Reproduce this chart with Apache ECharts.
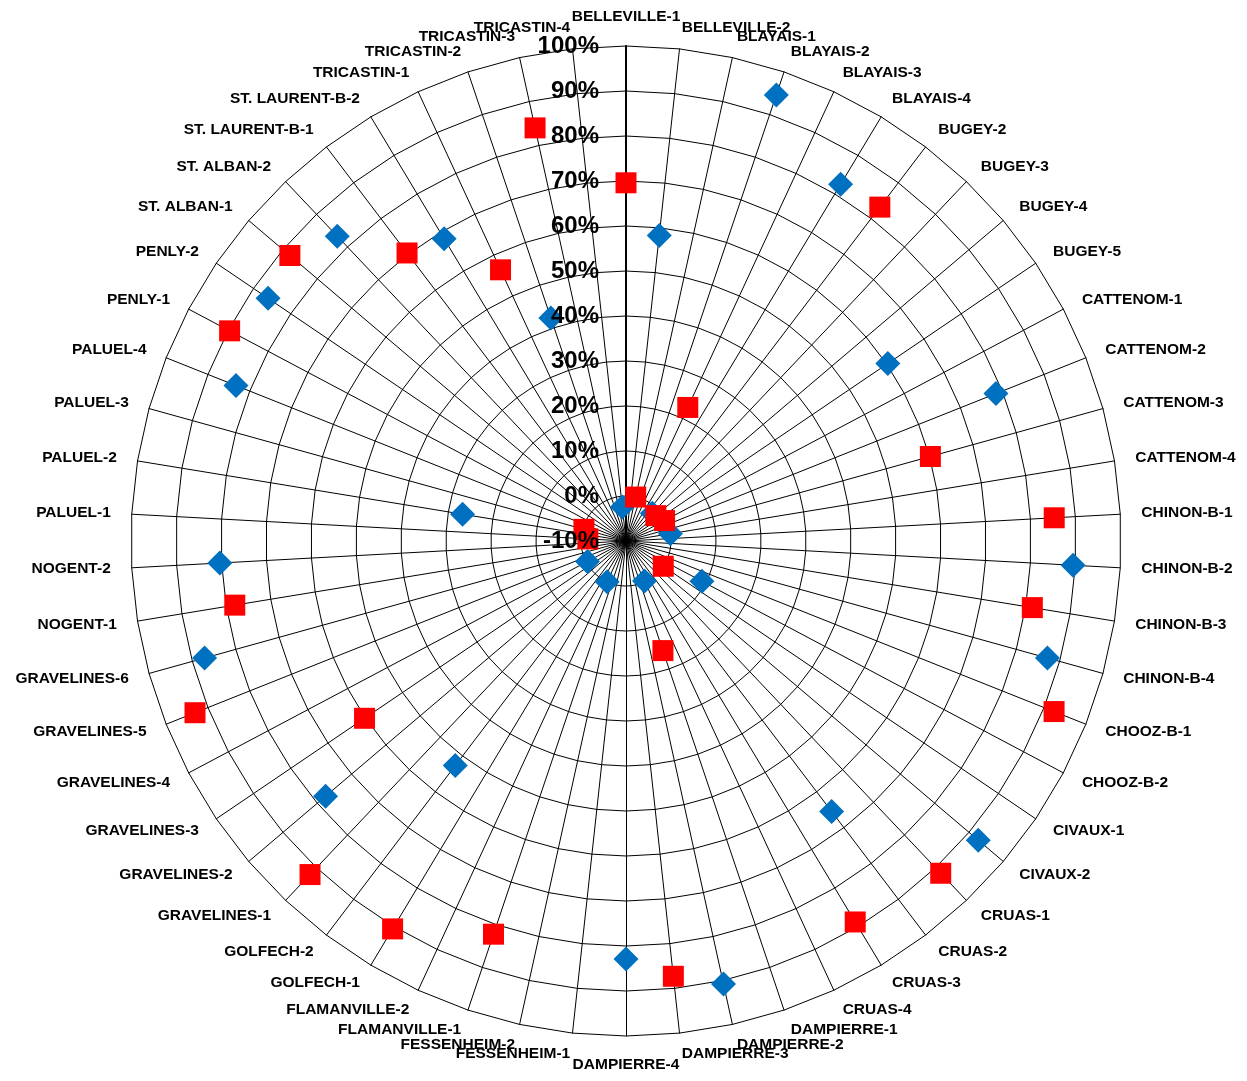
<!DOCTYPE html>
<html><head><meta charset="utf-8">
<script src="https://cdn.jsdelivr.net/npm/echarts@6/dist/echarts.min.js"></script>
<style>html,body{margin:0;padding:0;background:#fff}#c{width:1247px;height:1081px}</style>
</head><body><div id="c"></div>
<script>
const categories = [
  'BELLEVILLE-1','BELLEVILLE-2','BLAYAIS-1','BLAYAIS-2','BLAYAIS-3','BLAYAIS-4',
  'BUGEY-2','BUGEY-3','BUGEY-4','BUGEY-5',
  'CATTENOM-1','CATTENOM-2','CATTENOM-3','CATTENOM-4',
  'CHINON-B-1','CHINON-B-2','CHINON-B-3','CHINON-B-4',
  'CHOOZ-B-1','CHOOZ-B-2','CIVAUX-1','CIVAUX-2',
  'CRUAS-1','CRUAS-2','CRUAS-3','CRUAS-4',
  'DAMPIERRE-1','DAMPIERRE-2','DAMPIERRE-3','DAMPIERRE-4',
  'FESSENHEIM-1','FESSENHEIM-2','FLAMANVILLE-1','FLAMANVILLE-2',
  'GOLFECH-1','GOLFECH-2',
  'GRAVELINES-1','GRAVELINES-2','GRAVELINES-3','GRAVELINES-4','GRAVELINES-5','GRAVELINES-6',
  'NOGENT-1','NOGENT-2',
  'PALUEL-1','PALUEL-2','PALUEL-3','PALUEL-4',
  'PENLY-1','PENLY-2','ST. ALBAN-1','ST. ALBAN-2',
  'ST. LAURENT-B-1','ST. LAURENT-B-2',
  'TRICASTIN-1','TRICASTIN-2','TRICASTIN-3','TRICASTIN-4'
];
// blue diamonds (values in %)
const blueValues = [
  null,58.3,null,94.6,null,82.5,null,-1.5,null,60.3,
  null,78.5,null,0,null,89.5,null,87.2,null,9.1,
  null,92.7,null,65.5,null,-0.2,null,90.8,null,82.9,
  null,null,null,0,null,52.7,null,77.6,null,-0.3,
  null,87.2,null,80.4,null,26.8,null,83.3,null,86.1,
  null,83.3,null,68.4,null,42.3,null,-2.4
];
// red squares (values in %)
const redValues = [
  69.6,null,0,null,22.7,null,83.2,null,-1.3,null,
  -0.3,null,60.2,null,85.3,null,81.5,null,92.4,null,
  0,null,91.7,null,88.8,null,15.7,null,87.3,null,
  null,null,82.2,null,90.6,null,92.1,null,60.2,null,
  93.1,null,78.1,null,-1.5,null,-0.3,null,89.7,null,
  88,null,70.4,null,56.4,null,84,null
];
const radialMin = -10, radialMax = 100, radialStep = 10;

const CX = 626, CY = 541, R = 495;
const n = categories.length;
const FONT = 'Liberation Sans, Arial, sans-serif';

// radar in ECharts runs counter-clockwise; reverse order to get clockwise
const radarOrder = [0].concat(categories.map((_, i) => n - 1 - i).slice(0, n - 1));
const gridIndicators = radarOrder.map((ci, k) => {
  const ind = { name: categories[ci], min: radialMin, max: radialMax };
  if (k === 0) ind.axisLine = { lineStyle: { color: '#000', width: 2 } };
  return ind;
});
// overlay radar that only carries the radial tick labels (drawn above markers)
const labelIndicators = radarOrder.map((ci, k) => {
  const ind = { name: '', min: radialMin, max: radialMax };
  if (k === 0) {
    ind.axisLabel = {
      show: true, color: '#000', fontSize: 24, fontWeight: 'bold', fontFamily: FONT,
      margin: 27, formatter: '{value}%'
    };
  }
  return ind;
});

const toPts = arr => arr.map((v, i) => v == null ? null : [v, i]).filter(p => p);

const chart = echarts.init(document.getElementById('c'), null, { renderer: 'canvas' });
chart.setOption({
  backgroundColor: '#fff',
  animation: false,
  radar: [{
    center: [CX, CY],
    radius: R,
    startAngle: 90,
    shape: 'polygon',
    splitNumber: (radialMax - radialMin) / radialStep,
    indicator: gridIndicators,
    nameGap: 21,
    axisName: { color: '#000', fontSize: 15.5, fontWeight: 'bold', fontFamily: FONT },
    axisLine: { show: true, lineStyle: { color: '#000', width: 1 } },
    axisTick: { show: false },
    axisLabel: { show: false },
    splitLine: { show: true, lineStyle: { color: '#000', width: 1 } },
    splitArea: { show: false }
  }, {
    z: 20,
    center: [CX, CY],
    radius: R,
    startAngle: 90,
    shape: 'polygon',
    splitNumber: (radialMax - radialMin) / radialStep,
    indicator: labelIndicators,
    axisName: { show: false },
    axisLine: { show: false },
    axisTick: { show: false },
    axisLabel: { show: false },
    splitLine: { show: false },
    splitArea: { show: false }
  }],
  polar: { center: [CX, CY], radius: R },
  angleAxis: {
    type: 'category',
    data: categories,
    boundaryGap: true,
    startAngle: 90 + 180 / n,
    clockwise: true,
    axisLine: { show: false }, axisTick: { show: false },
    axisLabel: { show: false }, splitLine: { show: false }
  },
  radiusAxis: {
    type: 'value', min: radialMin, max: radialMax, interval: radialStep,
    axisLine: { show: false }, axisTick: { show: false },
    axisLabel: { show: false }, splitLine: { show: false }
  },
  series: [
    {
      type: 'scatter', coordinateSystem: 'polar', z: 5,
      symbol: 'diamond', symbolSize: 25,
      itemStyle: { color: '#0070C0', opacity: 1 },
      data: toPts(blueValues)
    },
    {
      type: 'scatter', coordinateSystem: 'polar', z: 6,
      symbol: 'rect', symbolSize: 21,
      itemStyle: { color: '#FF0000', opacity: 1 },
      data: toPts(redValues)
    }
  ]
});
</script>
</body></html>
